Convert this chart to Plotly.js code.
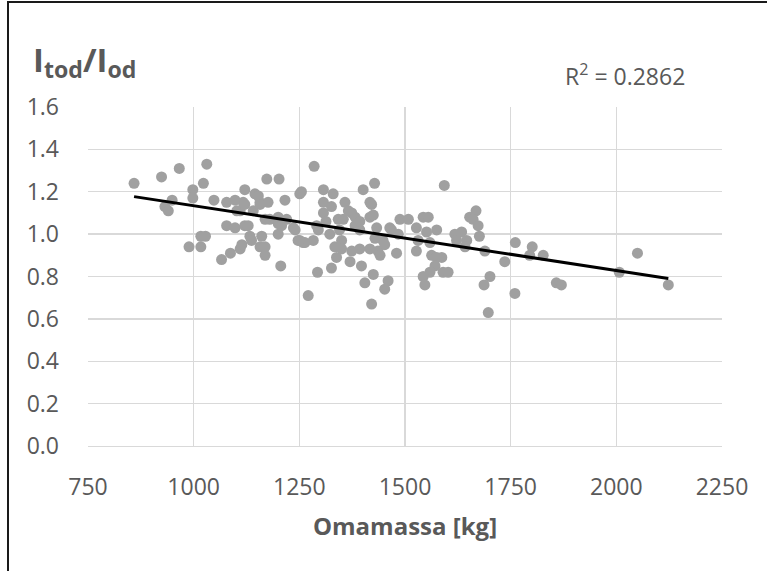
<!DOCTYPE html>
<html>
<head>
<meta charset="utf-8">
<script src="https://cdn.plot.ly/plotly-3.0.1.min.js"></script>
<style>
html,body{margin:0;padding:0;background:#fff;}
#chart{width:767px;height:571px;}
</style>
</head>
<body>
<div id="chart"></div>
<script>
// Omamassa [kg]
const massKg = [
 859, 924, 966, 1031, 1023, 998, 998, 949, 932, 940,
 1048, 989, 1017, 1017, 1028, 1066, 1087, 1110, 1078, 1098,
 1121, 1114, 1121, 1145, 1157, 1173, 1202, 1216, 1206, 1169,
 1157, 1133, 1078, 1098, 1117, 1102, 1110, 1141, 1180, 1200,
 1220, 1200, 1236, 1247, 1251, 1153, 1157, 1176, 1169, 1200,
 1161, 1169, 1240, 1259, 1283, 1291, 1285, 1255, 1307, 1330,
 1307, 1307, 1358, 1342, 1374, 1382, 1401, 1428, 1417, 1417,
 1393, 1322, 1334, 1350, 1338, 1326, 1293, 1271, 1370, 1393,
 1397, 1417, 1425, 1405, 1421, 1326, 1366, 1382, 1393, 1354,
 1421, 1425, 1433, 1464, 1488, 1508, 1484, 1480, 1448, 1436,
 1374, 1350, 1263, 1295, 1208, 1543, 1555, 1575, 1551, 1527,
 1531, 1527, 1559, 1563, 1575, 1587, 1571, 1559, 1590, 1602,
 1543, 1547, 1593, 1618, 1634, 1646, 1622, 1642, 1653, 1668,
 1661, 1673, 1676, 1689, 1736, 1761, 1760, 1697, 1701, 1687,
 1801, 1795, 1827, 1858, 1870, 2007, 2050, 2123, 1468, 1452,
 1441, 1429, 1460, 1452, 1121, 1129, 1137, 1251, 1313, 1345
];
// Itod/Iod
const ratio = [
 1.24, 1.27, 1.31, 1.33, 1.24, 1.21, 1.17, 1.16, 1.13, 1.11,
 1.16, 0.94, 0.94, 0.99, 0.99, 0.88, 0.91, 0.93, 1.04, 1.03,
 1.04, 0.95, 1.21, 1.19, 1.15, 1.26, 1.26, 1.16, 0.85, 0.90,
 0.94, 0.99, 1.15, 1.16, 1.15, 1.11, 1.11, 1.11, 1.07, 1.08,
 1.07, 1.00, 1.03, 0.97, 1.19, 1.18, 1.14, 1.15, 1.07, 1.05,
 0.99, 0.94, 1.02, 0.96, 0.97, 1.04, 1.32, 1.20, 1.21, 1.19,
 1.15, 1.10, 1.15, 1.07, 1.10, 1.04, 1.21, 1.24, 1.15, 1.08,
 1.02, 1.00, 0.94, 0.97, 0.89, 0.84, 0.82, 0.71, 0.87, 0.93,
 0.85, 0.93, 0.81, 0.77, 0.67, 1.13, 1.11, 1.08, 1.06, 1.07,
 1.14, 1.09, 1.03, 1.03, 1.07, 1.07, 1.00, 0.91, 0.97, 0.92,
 0.92, 0.93, 0.96, 1.02, 1.04, 1.08, 1.08, 1.02, 1.01, 1.03,
 0.97, 0.92, 0.96, 0.90, 0.89, 0.89, 0.85, 0.82, 0.82, 0.82,
 0.80, 0.76, 1.23, 1.00, 1.01, 0.97, 0.97, 0.94, 1.08, 1.11,
 1.07, 1.04, 0.99, 0.92, 0.87, 0.96, 0.72, 0.63, 0.80, 0.76,
 0.94, 0.90, 0.90, 0.77, 0.76, 0.82, 0.91, 0.76, 1.02, 0.95,
 0.90, 0.98, 0.78, 0.74, 1.14, 1.04, 0.97, 0.97, 1.06, 1.02
];
// Linear trendline end points
const trendX = [859, 2123];
const trendY = [1.177, 0.791];
const r2Label = 'R<sup>2</sup> = 0.2862';
const yTitle = 'I<sub>tod</sub>/I<sub>od</sub>';
const xTitle = 'Omamassa [kg]';

const FONT = '"Open Sans", "Noto Sans", sans-serif';
const GREY = '#595959';

const traces = [
  {
    type: 'scatter', mode: 'markers', x: massKg, y: ratio,
    marker: {color: '#a0a0a0', size: 11, line: {width: 0}},
    hoverinfo: 'skip', showlegend: false
  },
  {
    type: 'scatter', mode: 'lines', x: trendX, y: trendY,
    line: {color: '#000000', width: 3},
    hoverinfo: 'skip', showlegend: false
  }
];

// plot area: x 88..722 px, y 107..446 px
const L = 88, R = 767 - 722, T = 107, B = 571 - 446;
const pw = 767 - L - R, ph = 571 - T - B;
const px = v => (v - L) / pw;
const py = v => (571 - B - v) / ph;

const layout = {
  width: 767, height: 571,
  margin: {l: L, r: R, t: T, b: B, pad: 0},
  paper_bgcolor: '#ffffff', plot_bgcolor: '#ffffff',
  font: {family: FONT, color: GREY, size: 23},
  showlegend: false,
  title: {
    text: '<b>' + yTitle + '</b>',
    x: 33 / 767, xanchor: 'left', xref: 'container',
    y: 1 - 60 / 571, yanchor: 'middle', yref: 'container',
    font: {family: FONT, size: 33, color: GREY}
  },
  xaxis: {
    range: [750, 2250], dtick: 250, tick0: 750,
    showgrid: true, gridcolor: '#d9d9d9', gridwidth: 1.3,
    zeroline: false, showline: true, linecolor: '#d9d9d9', linewidth: 1.3,
    ticks: '', ticklabelstandoff: 20,
    tickfont: {family: FONT, size: 23, color: GREY},
    title: {text: '<b>' + xTitle + '</b>', standoff: 17,
            font: {family: FONT, size: 24, color: GREY}},
    fixedrange: true
  },
  yaxis: {
    range: [0, 1.6], dtick: 0.2, tick0: 0, tickformat: '.1f',
    showgrid: true, gridcolor: '#d9d9d9', gridwidth: 1.3,
    zeroline: false, showline: false,
    ticks: '', ticklabelstandoff: 28,
    tickfont: {family: FONT, size: 23, color: GREY},
    fixedrange: true
  },
  annotations: [
    {
      text: r2Label, showarrow: false,
      xref: 'paper', yref: 'paper',
      x: px(625), y: py(75), xanchor: 'center', yanchor: 'middle',
      font: {family: FONT, size: 23, color: GREY}
    }
  ],
  shapes: [
    {type: 'line', xref: 'paper', yref: 'paper', x0: px(8), x1: px(8), y0: py(1), y1: py(575),
     line: {color: '#1a1a1a', width: 2}},
    {type: 'line', xref: 'paper', yref: 'paper', x0: px(7), x1: px(770), y0: py(2), y1: py(2),
     line: {color: '#1a1a1a', width: 2}}
  ]
};

Plotly.newPlot('chart', traces, layout, {staticPlot: true, displayModeBar: false});
</script>
</body>
</html>
